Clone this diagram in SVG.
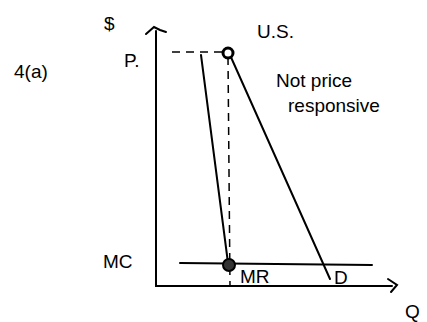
<svg xmlns="http://www.w3.org/2000/svg" width="427" height="322" viewBox="0 0 427 322">
<style>
.ln{stroke:#000;stroke-width:2;fill:none;stroke-linecap:round}
.dash{stroke:#000;stroke-width:1.5;fill:none;stroke-dasharray:8 6}
.t{font-family:"Liberation Sans",Arial,sans-serif;font-size:19px;fill:#000}
</style>
<rect width="427" height="322" fill="#fff"/>
<g id="axes">
<path class="ln" d="M156,31 L156,286 L392,286"/>
<path class="ln" d="M146,34 L154,27 L160,30 L166,32"/>
<path class="ln" d="M388,279 L397,285 L391,292"/>
</g>
<g id="connectors">
<path class="dash" d="M172,52 L224,52"/>
<path class="dash" d="M228,57 L230,286"/>
<path class="ln" d="M201,55 L228,263"/>
<path class="ln" d="M230,55 L330,279"/>
<path class="ln" d="M180,263 L372,265"/>
</g>
<g id="points">
<circle cx="228" cy="53" r="5" fill="#fff" stroke="#000" stroke-width="3"/>
<circle cx="229" cy="265" r="6" fill="#333" stroke="#000" stroke-width="2"/>
</g>
<g id="labels">
<text class="t" x="104" y="30">$</text>
<text class="t" x="124" y="67">P.</text>
<text class="t" x="14" y="78">4(a)</text>
<text class="t" x="103" y="268">MC</text>
<text class="t" x="257" y="38">U.S.</text>
<text class="t" x="276" y="87">Not price</text>
<text class="t" x="288" y="112">responsive</text>
<text class="t" x="240" y="283">MR</text>
<text class="t" x="334" y="284">D</text>
<text class="t" x="405" y="318">Q</text>
</g>
</svg>
